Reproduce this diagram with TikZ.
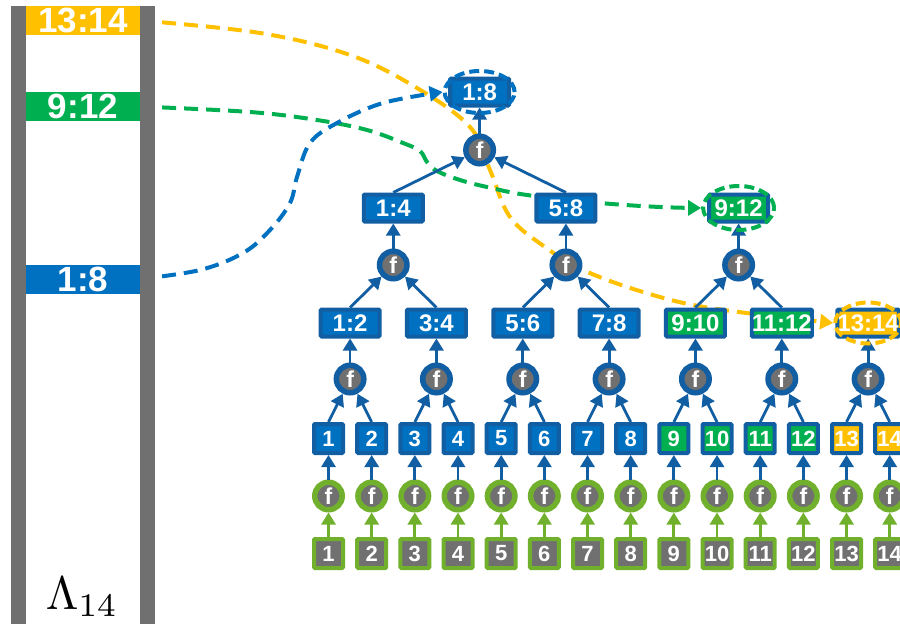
\documentclass[tikz,border=0pt]{standalone}
\usepackage{fontspec}
\setmainfont{Liberation Sans}
\usetikzlibrary{arrows.meta,shapes.geometric,backgrounds}

\definecolor{tblue}{RGB}{0,112,192}
\definecolor{tblueD}{RGB}{18,94,162}
\definecolor{tgreen}{RGB}{0,176,80}
\definecolor{lgreen}{RGB}{112,176,44}
\definecolor{torange}{RGB}{255,192,0}
\definecolor{tgray}{RGB}{112,112,112}

\tikzset{
  numtext/.style={text=white, font=\bfseries\fontsize{22}{22}\selectfont},
  leafbox/.style={numtext, rectangle, draw=tblueD, line width=4pt,
    minimum width=29pt, minimum height=29pt, inner sep=0pt, rounded corners=1pt},
  inputbox/.style={leafbox, draw=lgreen, fill=tgray},
  rangebox/.style={leafbox, minimum width=59pt, minimum height=27pt,
    font=\bfseries\fontsize{24}{24}\selectfont},
  fnode/.style={circle, fill=tgray, draw=tblueD, line width=5.5pt,
    minimum size=27.5pt, inner sep=0pt, text=white,
    font=\bfseries\fontsize{23}{23}\selectfont},
  gfnode/.style={fnode, draw=lgreen},
  flow/.style={draw=tblueD, line width=2.8pt, -{Triangle[width=14pt,length=12pt]}},
  gflow/.style={flow, draw=lgreen},
  pick/.style={ellipse, draw, line width=4pt, inner sep=0pt,
    dash pattern=on 10pt off 5pt},
  link/.style={line width=4pt, dash pattern=on 14pt off 8pt,
    -{Triangle[width=15pt,length=13pt]}},
  lab/.style={rectangle, inner sep=0pt, minimum width=114pt, minimum height=29pt,
    text=white, font=\bfseries\fontsize{35}{35}\selectfont},
}

\begin{document}
\begin{tikzpicture}[x=1pt, y=-1pt]
\useasboundingbox (0,0) rectangle (900,624);

% memory column
\fill[tgray] (11,6) rectangle (26,624);
\fill[tgray] (140,6) rectangle (155,624);
\node[lab, fill=torange] (lo) at (83,20.5) {13:14};
\node[lab, fill=tgreen] (lg) at (83,106.5) {9:12};
\node[lab, fill=tblue] (lb) at (83,279) {1:8};
\node[scale=4.7] (lam) at (82,597) {$\Lambda_{14}$};

% inputs, leaf transforms and leaves
\foreach \i/\c in {1/tblue,2/tblue,3/tblue,4/tblue,5/tblue,6/tblue,7/tblue,8/tblue,
                   9/tgreen,10/tgreen,11/tgreen,12/tgreen,13/torange,14/torange}{
  \pgfmathsetmacro\xx{328.5+(\i-1)*43.17}
  \node[inputbox] (g\i) at (\xx,553.5) {\i};
  \node[gfnode] (gf\i) at (\xx,496) {f};
  \node[leafbox, fill=\c] (l\i) at (\xx,438.5) {\i};
  \draw[gflow] (g\i.north) -- (gf\i);
  \draw[flow] (gf\i) -- (l\i);
}

% level 1
\foreach \k/\lbl/\c in {1/1:2/tblue,2/3:4/tblue,3/5:6/tblue,4/7:8/tblue,
                        5/9:10/tgreen,6/11:12/tgreen,7/13:14/torange}{
  \pgfmathsetmacro\xx{328.5+(2*\k-2)*43.17+21.585}
  \pgfmathtruncatemacro\ca{2*\k-1}
  \pgfmathtruncatemacro\cb{2*\k}
  \node[fnode] (fa\k) at (\xx,379) {f};
  \node[rangebox, fill=\c] (a\k) at (\xx,323) {\lbl};
  \draw[flow] (l\ca.north) -- (fa\k);
  \draw[flow] (l\cb.north) -- (fa\k);
  \draw[flow] (fa\k) -- (a\k);
}

% level 2
\foreach \k/\lbl/\c in {1/1:4/tblue,2/5:8/tblue,3/9:12/tgreen}{
  \pgfmathsetmacro\xx{328.5+(4*\k-4)*43.17+64.755}
  \pgfmathtruncatemacro\ca{2*\k-1}
  \pgfmathtruncatemacro\cb{2*\k}
  \node[fnode] (fb\k) at (\xx,265) {f};
  \node[rangebox, fill=\c] (b\k) at (\xx,208) {\lbl};
  \draw[flow] (a\ca.north) -- (fb\k);
  \draw[flow] (a\cb.north) -- (fb\k);
  \draw[flow] (fb\k) -- (b\k);
}

% level 3
\node[fnode] (fc) at (479.6,150) {f};
\node[rangebox, fill=tblue] (c) at (479.6,92) {1:8};
\draw[flow] (b1.north) -- (fc);
\draw[flow] (b2.north) -- (fc);
\draw[flow] (fc) -- (c);

% selected ranges
\node[pick, draw=tblue, minimum width=70pt, minimum height=42pt] (e18) at (c) {};
\node[pick, draw=tgreen, minimum width=71pt, minimum height=44pt] (e912) at (b3) {};
\node[pick, draw=torange, minimum width=66pt, minimum height=41pt] (e13) at (a7) {};

% links from the memory column to the ranges
\begin{scope}[on background layer]
\draw[link, torange] plot[smooth, tension=0.6] coordinates {
  (lo.east) (260,33) (350,55) (417,88) (470,127) (490,170) (510,217)
  (545,247) (583,270) (643,292) (710,308) (e13.west)};
\draw[link, tgreen] plot[smooth, tension=0.6] coordinates {
  (lg.east) (250,112) (317,120) (367,130) (403,143) (420,151) (427,162)
  (437,171) (460,180) (487,187) (527,195) (600,203) (660,207) (e912.west)};
\draw[link, tblue] plot[smooth, tension=0.6] coordinates {
  (lb.east) (200,270) (243,253) (270,230) (290,203) (297,177) (310,143)
  (337,123) (383,103) (e18.west)};
\end{scope}
\end{tikzpicture}
\end{document}
